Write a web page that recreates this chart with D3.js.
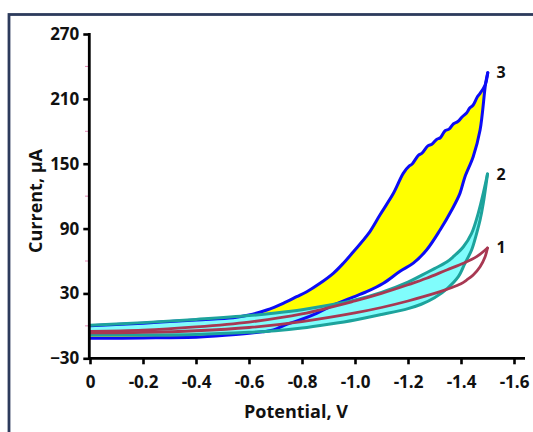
<!DOCTYPE html>
<html>
<head>
<meta charset="utf-8">
<script src="https://cdn.jsdelivr.net/npm/d3@7.9.0/dist/d3.min.js"></script>
<style>
  body { margin: 0; background: #fff; }
  svg { display: block; font-family: "Open Sans", Lato, sans-serif; }
</style>
</head>
<body>
<svg width="533" height="432"></svg>
<script>
// axis ticks
const xTicks = [0, -0.2, -0.4, -0.6, -0.8, -1.0, -1.2, -1.4, -1.6];
const xTickLabels = ['0', '-0.2', '-0.4', '-0.6', '-0.8', '-1.0', '-1.2', '-1.4', '-1.6'];
const yTicks = [-30, 30, 90, 150, 210, 270];
const yMinorTicks = [0, 60, 120, 180, 240];

// curve 3 (blue loop, yellow fill): [potential V, current µA]
const scan3Upper = [[0, 0], [-0.2, 2.5], [-0.4, 5.5], [-0.54, 7.5], [-0.6, 10], [-0.667, 14.7],
  [-0.729, 20.9], [-0.78, 27], [-0.818, 31.6], [-0.868, 39.4], [-0.918, 48.6], [-0.956, 57.9],
  [-0.994, 68.6], [-1.05, 85], [-1.094, 102.6], [-1.145, 122.6], [-1.182, 141.1], [-1.205, 148],
  [-1.215, 149.5], [-1.24, 158], [-1.252, 159.5], [-1.275, 166.5], [-1.29, 168], [-1.308, 172.5],
  [-1.322, 174], [-1.34, 180.5], [-1.355, 182], [-1.372, 187], [-1.388, 189], [-1.405, 193.5],
  [-1.421, 197], [-1.433, 201.5], [-1.446, 204.3], [-1.462, 212], [-1.472, 215.1], [-1.491, 222.8], [-1.501, 234.2]];
const scan3Lower = [[0, -11.5], [-0.2, -11.2], [-0.415, -10.3], [-0.55, -8], [-0.65, -5.5], [-0.692, -3.8],
  [-0.742, 1.5], [-0.792, 5.4], [-0.855, 11.6], [-0.918, 19.3], [-0.981, 25.5], [-1.044, 31.6],
  [-1.107, 39.4], [-1.17, 50.5], [-1.22, 58], [-1.27, 70.2], [-1.321, 88.7], [-1.365, 107.2],
  [-1.396, 122.6], [-1.415, 138], [-1.446, 156.5], [-1.472, 181.2], [-1.493, 224.4], [-1.501, 234.2]];

// curve 2 (teal loop, cyan fill)
const scan2Upper = [[0, 0.5], [-0.2, 3], [-0.4, 6], [-0.6, 9.5], [-0.7, 12], [-0.8, 15], [-0.9, 19],
  [-1.0, 24], [-1.1, 31], [-1.2, 40.5], [-1.245, 46], [-1.3, 53], [-1.346, 59], [-1.371, 64],
  [-1.409, 73.2], [-1.44, 85.6], [-1.465, 104.1], [-1.484, 122.6], [-1.5, 140.5]];
const scan2Lower = [[0, -8.5], [-0.2, -8.5], [-0.4, -8], [-0.6, -6], [-0.7, -4.5], [-0.8, -2], [-0.9, 1.5],
  [-1.0, 5.5], [-1.1, 10.5], [-1.2, 16], [-1.25, 20], [-1.3, 26], [-1.35, 35], [-1.39, 45.5],
  [-1.415, 57.9], [-1.44, 70.2], [-1.459, 85.6], [-1.472, 97.9], [-1.484, 113.4], [-1.5, 140.5]];

// curve 1 (red loop)
const scan1Upper = [[0, -5], [-0.2, -4], [-0.4, -1], [-0.6, 3.5], [-0.8, 11], [-1.0, 23], [-1.1, 30],
  [-1.2, 38], [-1.27, 44], [-1.346, 51.7], [-1.409, 57.9], [-1.459, 64], [-1.5, 72]];
const scan1Lower = [[0, -6.5], [-0.2, -6], [-0.4, -4.5], [-0.6, -1.5], [-0.8, 4], [-1.0, 12], [-1.1, 17],
  [-1.2, 23], [-1.3, 30], [-1.4, 39], [-1.421, 42.4], [-1.446, 47.1], [-1.472, 54.7], [-1.491, 64], [-1.5, 72]];

const curveLabels = [
  { text: '3', v: -1.5, i: 234 },
  { text: '2', v: -1.5, i: 140 },
  { text: '1', v: -1.5, i: 72 }
];

const svg = d3.select('svg');

// outer frame
svg.append('rect')
  .attr('x', 9).attr('y', 14.5)
  .attr('width', 600).attr('height', 500)
  .attr('fill', 'none')
  .attr('stroke', '#2d3b5c')
  .attr('stroke-width', 2.8);

const x = d3.scaleLinear().domain([0, -1.6]).range([90, 514]);
const y = d3.scaleLinear().domain([-30, 270]).range([358.3, 34]);

const line = d3.line()
  .x(d => x(d[0]))
  .y(d => y(d[1]))
  .curve(d3.curveCatmullRom);

const loop = (upper, lower) => upper.concat(lower.slice().reverse());

// fills: yellow under cyan
svg.append('path')
  .attr('d', line(loop(scan3Upper, scan3Lower)) + 'Z')
  .attr('fill', '#ffff00');
svg.append('path')
  .attr('d', line(loop(scan2Upper, scan2Lower)) + 'Z')
  .attr('fill', '#80fdfc');

const drawBranch = (data, color, width) => {
  svg.append('path')
    .attr('d', line(data))
    .attr('fill', 'none')
    .attr('stroke', color)
    .attr('stroke-width', width)
    .attr('stroke-linejoin', 'round')
    .attr('stroke-linecap', 'round');
};

drawBranch(scan3Upper, '#0c0cf5', 3);
drawBranch(scan3Lower, '#0c0cf5', 3);
drawBranch(scan2Upper, '#1da39c', 3);
drawBranch(scan2Lower, '#1da39c', 3);
drawBranch(scan1Upper, '#a83852', 2.8);
drawBranch(scan1Lower, '#a83852', 2.8);

// axes
const styleTicks = (g) => {
  g.select('.domain').remove();
  g.selectAll('.tick line').attr('stroke', '#000').attr('stroke-width', 2.6);
  g.selectAll('.tick text')
    .style('font-family', '"Open Sans", Lato, sans-serif')
    .style('font-size', '17px')
    .style('font-weight', 'bold')
    .attr('fill', '#111');
};

svg.append('g')
  .attr('transform', `translate(0,${y(-30)})`)
  .call(d3.axisBottom(x).tickValues(xTicks)
    .tickFormat((d, i) => xTickLabels[i])
    .tickSize(6).tickPadding(12).tickSizeOuter(0))
  .call(styleTicks);

svg.append('g')
  .attr('transform', `translate(${x(0) - 0.7},0)`)
  .call(d3.axisLeft(y).tickValues(yTicks).tickSize(6).tickPadding(4).tickSizeOuter(0))
  .call(styleTicks);

svg.selectAll('.minor')
  .data(yMinorTicks)
  .join('line')
  .attr('class', 'minor')
  .attr('x1', x(0) - 5).attr('x2', x(0) - 2)
  .attr('y1', d => y(d)).attr('y2', d => y(d))
  .attr('stroke', '#e58ab8')
  .attr('stroke-width', 1);

svg.append('line')
  .attr('x1', x(0) - 0.7).attr('x2', x(0) - 0.7)
  .attr('y1', y(270) - 1).attr('y2', y(-30) + 1.3)
  .attr('stroke', '#000').attr('stroke-width', 2.8);
svg.append('line')
  .attr('x1', x(0) - 2).attr('x2', 525)
  .attr('y1', y(-30)).attr('y2', y(-30))
  .attr('stroke', '#000').attr('stroke-width', 2.8);

// axis titles
svg.append('text')
  .attr('x', 296).attr('y', 418)
  .attr('text-anchor', 'middle')
  .attr('font-weight', 'bold').attr('font-size', 18)
  .attr('fill', '#111')
  .text('Potential, V');

svg.append('text')
  .attr('transform', 'translate(42,201) rotate(-90)')
  .attr('text-anchor', 'middle')
  .attr('font-weight', 'bold').attr('font-size', 18)
  .attr('fill', '#111')
  .text('Current, µA');

// curve numbers
svg.selectAll('.curve-label')
  .data(curveLabels)
  .join('text')
  .attr('class', 'curve-label')
  .attr('x', d => x(d.v) + 9)
  .attr('y', d => y(d.i) + 5)
  .attr('font-weight', 'bold').attr('font-size', 16)
  .attr('fill', '#111')
  .text(d => d.text);
</script>
</body>
</html>
